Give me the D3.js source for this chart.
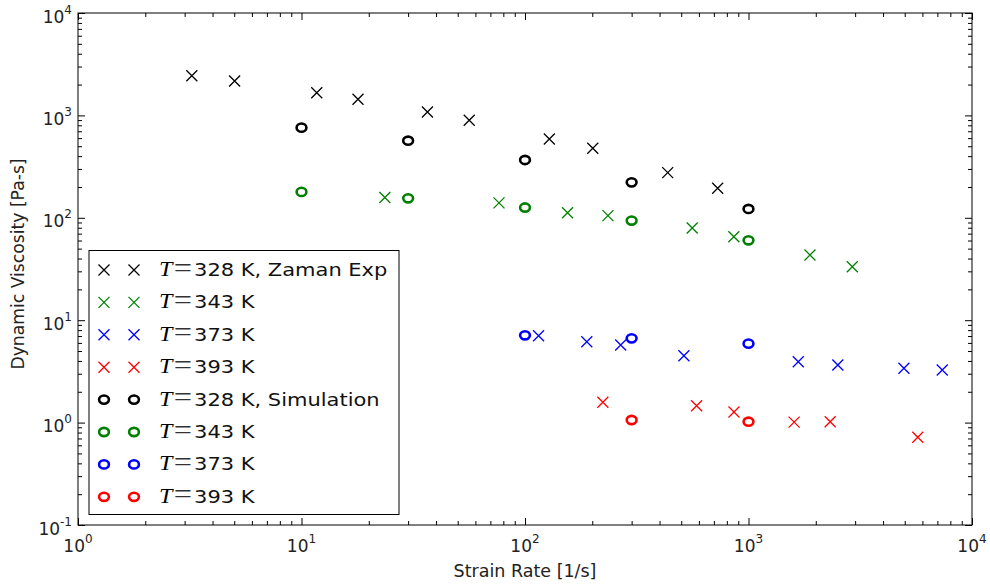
<!DOCTYPE html>
<html>
<head>
<meta charset="utf-8">
<script src="https://cdn.jsdelivr.net/npm/d3@7"></script>
<style>
  body { margin: 0; background: #fff; }
  text { font-family: "DejaVu Sans", sans-serif; }
</style>
</head>
<body>
<div id="chart"></div>
<script>
// Experimental data (Zaman) - strain rate [1/s] and viscosity [Pa-s]
const expRate328 = [3.23, 5.02, 11.7, 17.9, 36.6, 56.3, 128.5, 201, 435, 728];
const expVisc328 = [2443, 2168, 1666, 1437, 1080, 896, 588, 477, 276, 194];
const expRate343 = [23.6, 76.5, 155, 235, 560, 860, 1884, 2913];
const expVisc343 = [158, 140, 112, 105, 79.5, 65.4, 43.3, 33.3];
const expRate373 = [115, 189, 268, 514, 1670, 2510, 4960, 7360];
const expVisc373 = [7.06, 6.17, 5.72, 4.50, 3.93, 3.65, 3.39, 3.26];
const expRate393 = [223, 586, 861, 1600, 2320, 5720];
const expVisc393 = [1.58, 1.46, 1.27, 1.01, 1.02, 0.72];

// Simulation data
const simRate328 = [10, 30, 100, 300, 1000];
const simVisc328 = [759, 566, 367, 222, 122];
const simRate343 = [10, 30, 100, 300, 1000];
const simVisc343 = [179, 155, 126, 94, 60.3];
const simRate373 = [100, 300, 1000];
const simVisc373 = [7.12, 6.65, 5.90];
const simRate393 = [300, 1000];
const simVisc393 = [1.06, 1.02];

const xTickExp = [0, 1, 2, 3, 4];
const yTickExp = [-1, 0, 1, 2, 3, 4];

const legendTemps = ["328", "343", "373", "393", "328", "343", "373", "393"];
const legendSuffix = [", Zaman Exp", "", "", "", ", Simulation", "", "", ""];

(function() {
    const W = 990, H = 588;
    const left = 78, right = 972, top = 13, bottom = 525;

    const svg = d3.select("#chart")
        .append("svg")
        .attr("width", W)
        .attr("height", H);

    const x = d3.scaleLog().domain([1, 1e4]).range([left, right]);
    const y = d3.scaleLog().domain([0.1, 1e4]).range([bottom, top]);

    // minor ticks 2..9 for every decade
    const minorX = [], minorY = [];
    for (let e = 0; e < 4; e++) for (let m = 2; m < 10; m++) minorX.push(m * Math.pow(10, e));
    for (let e = -1; e < 4; e++) for (let m = 2; m < 10; m++) minorY.push(m * Math.pow(10, e));
    const majorX = xTickExp.map(e => Math.pow(10, e));
    const majorY = yTickExp.map(e => Math.pow(10, e));

    function ticks(axisFn, scale, vals, size, transform) {
        const g = svg.append("g")
            .attr("transform", transform)
            .call(axisFn(scale).tickValues(vals).tickSizeInner(-size).tickSizeOuter(0).tickFormat(""));
        g.select(".domain").remove();
        g.selectAll("line").attr("stroke", "#000").attr("stroke-width", 1);
    }
    ticks(d3.axisBottom, x, majorX, 7, `translate(0,${bottom})`);
    ticks(d3.axisBottom, x, minorX, 4, `translate(0,${bottom})`);
    ticks(d3.axisTop, x, majorX, 7, `translate(0,${top})`);
    ticks(d3.axisTop, x, minorX, 4, `translate(0,${top})`);
    ticks(d3.axisLeft, y, majorY, 7, `translate(${left},0)`);
    ticks(d3.axisLeft, y, minorY, 4, `translate(${left},0)`);
    ticks(d3.axisRight, y, majorY, 7, `translate(${right},0)`);
    ticks(d3.axisRight, y, minorY, 4, `translate(${right},0)`);

    // frame
    svg.append("rect")
        .attr("x", left).attr("y", top)
        .attr("width", right - left).attr("height", bottom - top)
        .attr("fill", "none").attr("stroke", "#000").attr("stroke-width", 1);

    // tick labels 10^n
    xTickExp.forEach(e => {
        const t = svg.append("text")
            .attr("x", x(Math.pow(10, e)))
            .attr("y", 552)
            .attr("text-anchor", "middle")
            .attr("fill", "#222")
            .style("font-size", "17px");
        t.append("tspan").text("10");
        t.append("tspan").attr("dy", -9).style("font-size", "12px").text(e);
    });
    yTickExp.forEach(e => {
        const t = svg.append("text")
            .attr("x", 72)
            .attr("y", y(Math.pow(10, e)) + 9.5)
            .attr("text-anchor", "end")
            .attr("fill", "#222")
            .style("font-size", "17px");
        t.append("tspan").text("10");
        t.append("tspan").attr("dy", -9).style("font-size", "12px").text(e);
    });

    // axis labels
    svg.append("text")
        .attr("x", (left + right) / 2)
        .attr("y", 577)
        .attr("text-anchor", "middle")
        .attr("fill", "#222")
        .style("font-size", "17.5px")
        .text("Strain Rate [1/s]");

    svg.append("text")
        .attr("transform", "rotate(-90)")
        .attr("x", -264)
        .attr("y", 24)
        .attr("text-anchor", "middle")
        .attr("fill", "#222")
        .style("font-size", "17.2px")
        .text("Dynamic Viscosity [Pa-s]");

    // markers
    const cross = "M-5.5,-5.5L5.5,5.5M-5.5,5.5L5.5,-5.5";
    function drawCross(g, px, py, color) {
        g.append("path").attr("d", cross)
            .attr("transform", `translate(${px},${py})`)
            .attr("fill", "none").attr("stroke", color).attr("stroke-width", 1.3);
    }
    function drawRing(g, px, py, color) {
        g.append("ellipse")
            .attr("cx", px).attr("cy", py).attr("rx", 4.9).attr("ry", 4.1)
            .attr("fill", "none").attr("stroke", color).attr("stroke-width", 2.6);
    }

    const colors = ["#000000", "#008000", "#0000ff", "#ff0000"];
    const expSets = [[expRate328, expVisc328], [expRate343, expVisc343], [expRate373, expVisc373], [expRate393, expVisc393]];
    const simSets = [[simRate328, simVisc328], [simRate343, simVisc343], [simRate373, simVisc373], [simRate393, simVisc393]];

    const marks = svg.append("g");
    expSets.forEach((s, i) => {
        s[0].forEach((r, j) => drawCross(marks, x(r), y(s[1][j]), colors[i]));
    });
    simSets.forEach((s, i) => {
        s[0].forEach((r, j) => drawRing(marks, x(r), y(s[1][j]), colors[i]));
    });

    // legend
    const leg = svg.append("g");
    leg.append("rect")
        .attr("x", 89).attr("y", 250.5)
        .attr("width", 310).attr("height", 264)
        .attr("fill", "#fff").attr("stroke", "#000").attr("stroke-width", 1);

    legendTemps.forEach((temp, i) => {
        const ry = 270 + i * 32.4;
        const color = colors[i % 4];
        if (i < 4) {
            drawCross(leg, 104, ry, color);
            drawCross(leg, 134, ry, color);
        } else {
            drawRing(leg, 104, ry, color);
            drawRing(leg, 134, ry, color);
        }
        const lab = leg.append("g")
            .attr("transform", `translate(159,${ry + 6}) scale(1.2,1)`);
        lab.append("text")
            .attr("x", 0)
            .style("font-family", "'Liberation Serif', serif")
            .style("font-style", "italic")
            .style("font-size", "20px")
            .text("T");
        lab.append("text")
            .attr("x", 12.3)
            .attr("y", 0.5)
            .attr("fill", "#333")
            .style("font-family", "'Liberation Serif', serif")
            .style("font-size", "27px")
            .text("=");
        lab.append("text")
            .attr("x", 29.2)
            .attr("fill", "#111")
            .style("font-size", "17.5px")
            .text(temp + " K" + legendSuffix[i]);
    });
})();
</script>
</body>
</html>
